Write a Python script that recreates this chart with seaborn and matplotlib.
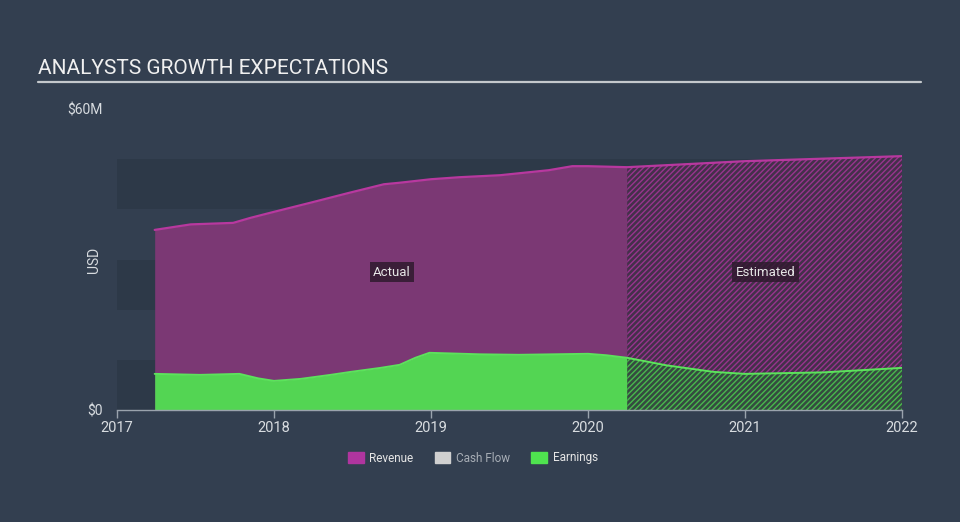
import matplotlib

matplotlib.use("Agg")
import matplotlib.pyplot as plt
import numpy as np
import pandas as pd
import seaborn as sns
from matplotlib.patches import Patch

BG = "#333f50"
BAND = "#2d3948"
REV_FILL = "#7b3874"
REV_LINE = "#b8389f"
EARN_FILL = "#53d553"
EARN_LINE = "#5ce35c"

# ----------------------------------------------------------------------
# Data (USD millions, x in fractional years)
# ----------------------------------------------------------------------
rev_years = [2017.24, 2017.47, 2017.74, 2017.85, 2018.0, 2018.23, 2018.48,
             2018.7, 2018.8, 2019.0, 2019.18, 2019.44, 2019.75, 2019.9,
             2020.0, 2020.25]
rev_values = [35.9, 37.0, 37.3, 38.3, 39.5, 41.3, 43.3, 45.0, 45.3, 46.0,
              46.4, 46.8, 47.8, 48.6, 48.6, 48.4]
rev_est_years = [2020.25, 2021.0, 2022.0]
rev_est_values = [48.4, 49.6, 50.6]

earn_years = [2017.24, 2017.53, 2017.78, 2017.9, 2018.0, 2018.17, 2018.36,
              2018.49, 2018.68, 2018.8, 2018.9, 2018.99, 2019.31, 2019.56,
              2020.0, 2020.12, 2020.25]
earn_values = [7.2, 7.0, 7.2, 6.3, 5.8, 6.2, 7.0, 7.6, 8.4, 9.0, 10.4, 11.4,
               11.1, 11.0, 11.2, 10.9, 10.4]
earn_est_years = [2020.25, 2020.5, 2020.8, 2021.0, 2021.5, 2022.0]
earn_est_values = [10.4, 8.9, 7.6, 7.2, 7.5, 8.4]

bands = [(0, 10), (20, 30), (40, 50)]
year_ticks = [2017, 2018, 2019, 2020, 2021, 2022]

sns.set_theme(style="dark", rc={
    "figure.facecolor": BG,
    "axes.facecolor": BG,
    "hatch.linewidth": 1.0,
})
plt.rcParams["font.family"] = ["Roboto", "DejaVu Sans"]

fig = plt.figure(figsize=(9.6, 5.22), dpi=100)
ax = fig.add_axes([117 / 960, (522 - 410) / 522, (902 - 117) / 960, 301 / 522])
ax.set_facecolor(BG)

for lo, hi in bands:
    ax.axhspan(lo, hi, color=BAND, lw=0, zorder=0)

# Actual
ax.fill_between(rev_years, rev_values, color=REV_FILL, lw=0, zorder=1)
ax.fill_between(earn_years, earn_values, color=EARN_FILL, lw=0, zorder=2)
# Estimated (hatched)
ax.fill_between(rev_est_years, rev_est_values, facecolor="#44304a",
                edgecolor="#98348e", hatch="//////", lw=0, zorder=1)
ax.fill_between(earn_est_years, earn_est_values, facecolor="#354a40",
                edgecolor="#48b84c", hatch="//////", lw=0, zorder=2)

revenue = pd.DataFrame({"year": rev_years + rev_est_years[1:],
                        "value": rev_values + rev_est_values[1:]})
sns.lineplot(data=revenue, x="year", y="value", color=REV_LINE, lw=1.6,
             ax=ax, zorder=3, estimator=None, sort=True)
earn = pd.DataFrame({"year": earn_years + earn_est_years[1:],
                     "value": earn_values + earn_est_values[1:]})
sns.lineplot(data=earn, x="year", y="value", color=EARN_LINE, lw=1.4,
             ax=ax, zorder=3, estimator=None, sort=True)

ax.set_xlim(2017, 2022)
ax.set_ylim(0, 60)
ax.set_xticks(year_ticks)
ax.set_xticklabels([str(y) for y in year_ticks], color="#d8dce0", fontsize=10.5)
ax.set_yticks([0, 60])
ax.set_yticklabels(["$0", "$60M"], color="#d8dce0", fontsize=10)
ax.tick_params(axis="x", length=6, width=1, color="#9aa3ad", pad=2, direction="out")
ax.tick_params(axis="y", length=0, pad=10)
for s in ["top", "right", "left"]:
    ax.spines[s].set_visible(False)
ax.spines["bottom"].set_color("#9aa3ad")
ax.spines["bottom"].set_linewidth(1)
ax.xaxis.set_ticks_position("bottom")
ax.set_xlabel("")
ax.set_ylabel("USD", color="#d8dce0", fontsize=10)
ax.yaxis.set_label_coords(-0.02, 0.5)

box = dict(boxstyle="square,pad=0.25", fc="#2f1a2e", ec="none", alpha=0.85)
ax.text(2018.75, 27.5, "Actual", ha="center", va="center", color="#e6e6e6",
        fontsize=9.5, bbox=box, zorder=5)
ax.text(2021.13, 27.5, "Estimated", ha="center", va="center", color="#e6e6e6",
        fontsize=9.5, bbox=box, zorder=5)

# Title and underline
fig.text(38 / 960, 1 - 68 / 522, "ANALYSTS GROWTH EXPECTATIONS", color="#f0f0f0",
         fontsize=15, ha="left", va="center")
fig.add_artist(plt.Line2D([38 / 960, 921 / 960], [1 - 82 / 522, 1 - 82 / 522],
                          color="#c4c8cc", lw=1.6))

handles = [Patch(color="#b0359f", label="Revenue"),
           Patch(color="#d0d0d0", label="Cash Flow"),
           Patch(color="#4fe34f", label="Earnings")]
leg = fig.legend(handles=handles, loc="center", bbox_to_anchor=(473 / 960, 1 - 458 / 522),
                 ncol=3, frameon=False, fontsize=8.5, handlelength=1.3,
                 handleheight=1.0, columnspacing=1.8, handletextpad=0.5)
for t, c in zip(leg.get_texts(), ["#e6e6e6", "#a8aeb6", "#e6e6e6"]):
    t.set_color(c)

fig.savefig("out.png", dpi=100, facecolor=BG)
